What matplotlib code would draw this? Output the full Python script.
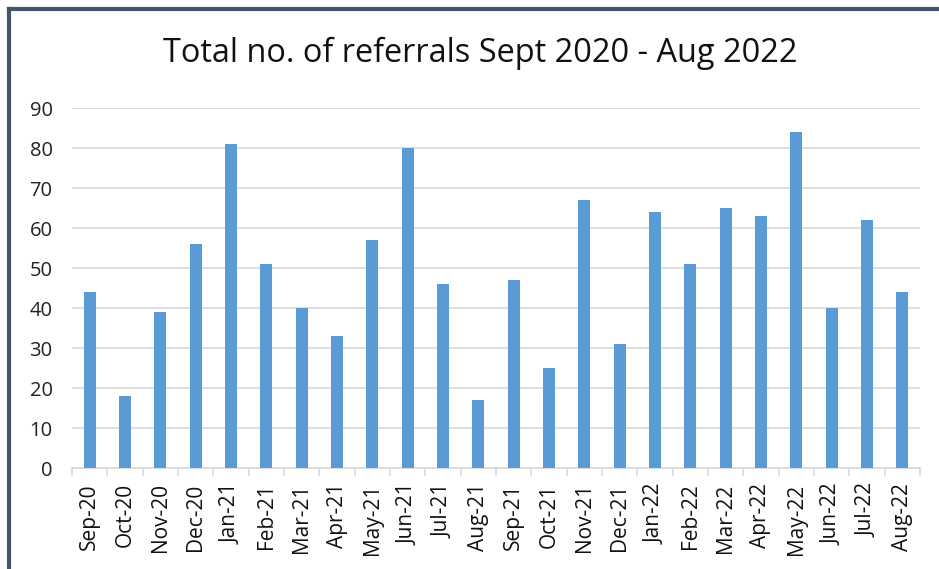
import matplotlib.pyplot as plt
import numpy as np
from matplotlib.lines import Line2D

months = ["Sep-20", "Oct-20", "Nov-20", "Dec-20", "Jan-21", "Feb-21", "Mar-21", "Apr-21",
          "May-21", "Jun-21", "Jul-21", "Aug-21", "Sep-21", "Oct-21", "Nov-21", "Dec-21",
          "Jan-22", "Feb-22", "Mar-22", "Apr-22", "May-22", "Jun-22", "Jul-22", "Aug-22"]
referrals = [44, 18, 39, 56, 81, 51, 40, 33, 57, 80, 46, 17, 47, 25, 67, 31,
             64, 51, 65, 63, 84, 40, 62, 44]
y_ticks = list(range(0, 100, 10))

plt.rcParams["font.family"] = ["Open Sans", "DejaVu Sans"]

fig = plt.figure(figsize=(9.39, 5.69), dpi=100)
ax = fig.add_axes([72 / 939, 1 - 468 / 569, 848 / 939, 360 / 569])

x = np.arange(len(months))
ax.bar(x, referrals, width=0.34, color="#5B9BD5", zorder=3)

ax.set_xlim(-0.5, len(months) - 0.5)
ax.set_ylim(0, 90)
ax.set_yticks(y_ticks)
ax.yaxis.grid(True, color="#D9D9D9", linewidth=1.2, zorder=0)
ax.tick_params(axis="y", length=0, labelsize=14.5, colors="#222222", pad=14)

# category labels centered, tick marks at boundaries
ax.set_xticks(x)
ax.set_xticklabels(months, rotation=90, fontsize=15, color="#111111")
ax.tick_params(axis="x", which="major", length=0, pad=11)
ax.set_xticks(np.arange(-0.5, len(months)), minor=True)
ax.tick_params(axis="x", which="minor", length=6, color="#D9D9D9", width=1.2)

for s in ["top", "right", "left"]:
    ax.spines[s].set_visible(False)
ax.spines["bottom"].set_color("#D9D9D9")
ax.spines["bottom"].set_linewidth(1.2)

fig.text(480 / 939, 1 - 53 / 569, "Total no. of referrals Sept 2020 - Aug 2022",
         ha="center", va="center", fontsize=23.4, color="#111111")

# outer frame (only top and left edges visible)
fig.add_artist(Line2D([9 / 939, 1], [1 - 9 / 569, 1 - 9 / 569], transform=fig.transFigure,
                      color="#44546A", linewidth=3))
fig.add_artist(Line2D([9 / 939, 9 / 939], [0, 1 - 9 / 569], transform=fig.transFigure,
                      color="#44546A", linewidth=3))

fig.savefig("out.png", dpi=100)
